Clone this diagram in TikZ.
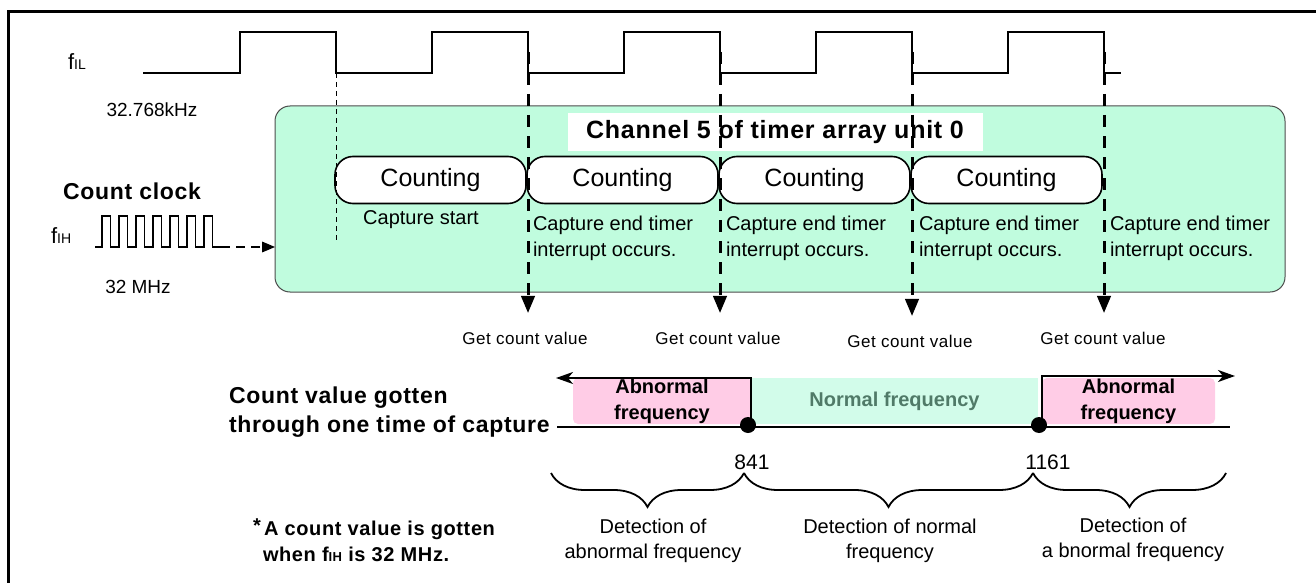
\documentclass[tikz,border=0pt]{standalone}
\usepackage{fontspec}
\setmainfont{Liberation Sans}
\newfontfamily\wideface[LetterSpace=3]{Liberation Sans}
\usetikzlibrary{arrows,arrows.meta,positioning,decorations.pathreplacing}

\definecolor{unitgreen}{RGB}{192,252,222}
\definecolor{abnpink}{RGB}{255,204,230}
\definecolor{normgreen}{RGB}{210,252,234}
\definecolor{normtext}{RGB}{80,122,104}
\newcommand{\pxfont}[2]{\fontsize{#1}{#2}\selectfont}

\begin{document}
\begin{tikzpicture}[x=1pt,y=-1pt,line width=1.6pt,>=triangle 45]
  \tikzstyle{every node}=[inner sep=0pt,outer sep=0pt]
  \tikzstyle{countbox}=[draw,fill=white,rounded corners=18pt,minimum width=191pt,
    minimum height=47pt,font=\pxfont{25}{28}]
  \tikzstyle{plain}=[font=\pxfont{20}{26},align=left]
  \tikzstyle{brlabel}=[font=\pxfont{20}{25},align=center]
  \tikzstyle{getlabel}=[font=\wideface\pxfont{17}{20}]
  \tikzstyle{boldlabel}=[font=\wideface\bfseries\pxfont{23}{29},align=left]
  \tikzstyle{region}=[minimum height=46pt,align=center,rounded corners=5pt,
    font=\bfseries\pxfont{20}{26}]
  \tikzstyle{fallmark}=[->,line width=3pt,dash pattern=on 12pt off 9pt]
  \tikzstyle{rangearrow}=[-{Stealth[length=17pt,width=12pt,inset=5pt]},line width=2pt]
  \tikzstyle{dot}=[circle,fill=black,minimum size=16pt]

  \useasboundingbox (0,0) rectangle (1316,583);
  \draw[line width=3pt] (8,583) -- (8,12) -- (1316,12);

  % channel 5 block
  \node[draw=black!70,fill=unitgreen,line width=1pt,rounded corners=15pt,
    minimum width=1010pt,minimum height=186pt] (unit) at (780,199) {};
  \node[fill=white,minimum width=415pt,minimum height=38pt,
    font=\wideface\bfseries\pxfont{25}{28}] (title) at (775,132)
    {Channel 5 of timer array unit 0};

  % fIL clock
  \node[anchor=west] (filname) at (68,62) {\pxfont{22}{24}f\pxfont{14}{16}IL};
  \node[font=\pxfont{19}{22}] (filfreq) at (152,110) {32.768kHz};
  \draw (143,73) \foreach \r in {240,432,624,816,1008}
    { -- (\r,73) -- (\r,32) -- (\r+96,32) -- (\r+96,73) } -- (1121,73);
  \foreach \i/\x in {1/336,2/528,3/720,4/912,5/1104}
    \coordinate (e\i) at (\x,73);
  \foreach \i/\x in {2/528,3/720,4/912,5/1104}
    \coordinate (t\i) at (\x,52);

  % count clock
  \node[boldlabel] (ckname) at (132,191) {Count clock};
  \node[anchor=west] (fihname) at (51,236) {\pxfont{22}{24}f\pxfont{14}{16}IH};
  \node[font=\pxfont{19}{22}] (fihfreq) at (138,287) {32 MHz};
  \draw (95,247) \foreach \p in {0,...,6}
    { -- (102+17*\p,247) -- (102+17*\p,216) -- (110.5+17*\p,216) -- (110.5+17*\p,247) }
    -- (221,247) coordinate (ck);
  \draw[->,line width=2pt,dash pattern=on 9pt off 6pt] (ck) -- (unit.west |- ck);

  % counting periods
  \node[countbox] (c1) at (430.5,180) {Counting};
  \node[countbox,right=1pt of c1] (c2) {Counting};
  \node[countbox,right=1pt of c2] (c3) {Counting};
  \node[countbox,right=1pt of c3] (c4) {Counting};

  \coordinate (capstart) at (336,243);
  \draw[line width=1pt,dash pattern=on 5pt off 4pt] (e1) -- (capstart);
  \node[plain] (startlbl) at (421,220) {Capture start};
  \foreach \i/\x in {2/533,3/726,4/919,5/1110}
    \node[plain,anchor=west] (irq\i) at (\x,238) {Capture end timer\\interrupt occurs.};

  % get count value
  \node[getlabel] (g2) at (525,338) {Get count value};
  \node[getlabel] (g3) at (718,338) {Get count value};
  \node[getlabel] (g4) at (910,341) {Get count value};
  \node[getlabel] (g5) at (1103,338) {Get count value};
  \foreach \i in {2,3,4,5}
    \draw[fallmark,shorten >=19pt] (t\i) -- (t\i |- g\i.north);

  % count value axis
  \node[boldlabel,anchor=west] (cvname) at (229,412)
    {Count value gotten\\through one time of capture};
  \coordinate (axl) at (557,427);
  \coordinate (axr) at (1230,427);
  \node[region,fill=abnpink,minimum width=178pt] (abnlo) at (662,401) {Abnormal\\frequency};
  \node[region,fill=normgreen,rounded corners=0pt,minimum width=287pt,text=normtext]
    (norm) at (894.5,401) {Normal frequency};
  \node[region,fill=abnpink,minimum width=173pt] (abnhi) at (1128.5,401) {Abnormal\\frequency};
  \draw[line width=2pt] (axl) -- (axr);
  \node[dot] (d1) at (748,425) {};
  \node[dot] (d2) at (1039,425) {};
  \coordinate (lefttip) at (556,378);
  \coordinate (righttip) at (1235,376);
  \draw[rangearrow] (norm.south west) -- (norm.north west) -- (lefttip);
  \draw[rangearrow] (abnhi.south west) -- (abnhi.north west |- righttip) -- (righttip);

  \node[font=\pxfont{21}{24}] (v841) at (752,462) {841};
  \node[font=\pxfont{21}{24}] (v1161) at (1048,462) {1161};

  % detection ranges
  \coordinate (b0) at (551,473);
  \coordinate (b1) at (744,473);
  \coordinate (b2) at (1033,473);
  \coordinate (b3) at (1226,473);
  \foreach \a/\b in {b0/b1,b1/b2,b2/b3}
    \draw[line width=1.8pt,decorate,decoration={brace,mirror,amplitude=34pt}] (\a) -- (\b);
  \node[brlabel] (det1) at (653,541) {Detection of\\abnormal frequency};
  \node[brlabel] (det2) at (890,541) {Detection of normal\\frequency};
  \node[brlabel] (det3) at (1133,540) {Detection of\\a bnormal frequency};

  \node[boldlabel,anchor=west,font=\wideface\bfseries\pxfont{20}{26}] (note) at (253,540)
    {\raisebox{3pt}{*}\,A count value is gotten\\
     \hspace*{10pt}when f{\pxfont{13}{14}IH} is 32 MHz.};
\end{tikzpicture}
\end{document}
